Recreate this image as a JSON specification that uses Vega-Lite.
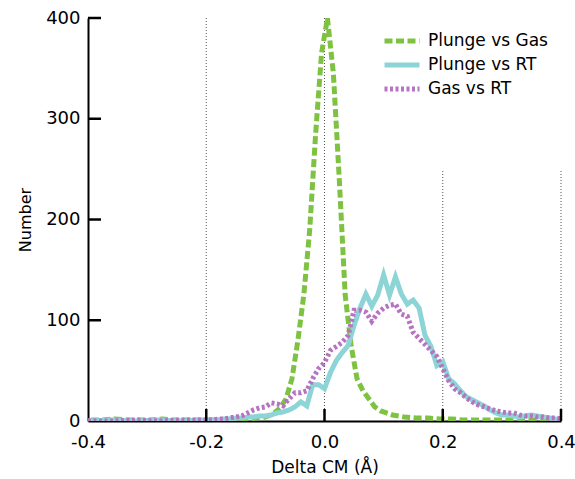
{
  "$schema": "https://vega.github.io/schema/vega-lite/v6.json",
  "width": 473,
  "height": 403,
  "autosize": {"type": "none"},
  "padding": {"left": 88, "top": 18, "right": 14, "bottom": 58},
  "background": "white",
  "config": {
    "view": {"stroke": null},
    "font": "DejaVu Sans",
    "axis": {
      "domainColor": "black", "domainWidth": 2,
      "ticks": false,
      "labelColor": "black", "titleColor": "black",
      "labelFont": "DejaVu Sans", "titleFont": "DejaVu Sans",
      "labelFontSize": 18, "titleFontSize": 16, "titleFontWeight": "normal",
      "grid": false
    }
  },
  "datasets": {
    "curves": [
      {"x": -0.395, "n": 1, "s": "Plunge vs Gas"},
      {"x": -0.375, "n": 1, "s": "Plunge vs Gas"},
      {"x": -0.355, "n": 2, "s": "Plunge vs Gas"},
      {"x": -0.335, "n": 1, "s": "Plunge vs Gas"},
      {"x": -0.315, "n": 1, "s": "Plunge vs Gas"},
      {"x": -0.295, "n": 1, "s": "Plunge vs Gas"},
      {"x": -0.275, "n": 2, "s": "Plunge vs Gas"},
      {"x": -0.255, "n": 1, "s": "Plunge vs Gas"},
      {"x": -0.235, "n": 1, "s": "Plunge vs Gas"},
      {"x": -0.215, "n": 1, "s": "Plunge vs Gas"},
      {"x": -0.195, "n": 1, "s": "Plunge vs Gas"},
      {"x": -0.175, "n": 1, "s": "Plunge vs Gas"},
      {"x": -0.155, "n": 1, "s": "Plunge vs Gas"},
      {"x": -0.135, "n": 2, "s": "Plunge vs Gas"},
      {"x": -0.125, "n": 2, "s": "Plunge vs Gas"},
      {"x": -0.115, "n": 3, "s": "Plunge vs Gas"},
      {"x": -0.105, "n": 3, "s": "Plunge vs Gas"},
      {"x": -0.095, "n": 5, "s": "Plunge vs Gas"},
      {"x": -0.085, "n": 8, "s": "Plunge vs Gas"},
      {"x": -0.075, "n": 13, "s": "Plunge vs Gas"},
      {"x": -0.065, "n": 22, "s": "Plunge vs Gas"},
      {"x": -0.055, "n": 42, "s": "Plunge vs Gas"},
      {"x": -0.045, "n": 80, "s": "Plunge vs Gas"},
      {"x": -0.035, "n": 125, "s": "Plunge vs Gas"},
      {"x": -0.025, "n": 190, "s": "Plunge vs Gas"},
      {"x": -0.015, "n": 285, "s": "Plunge vs Gas"},
      {"x": -0.005, "n": 365, "s": "Plunge vs Gas"},
      {"x": 0.005, "n": 400, "s": "Plunge vs Gas"},
      {"x": 0.015, "n": 345, "s": "Plunge vs Gas"},
      {"x": 0.025, "n": 240, "s": "Plunge vs Gas"},
      {"x": 0.035, "n": 125, "s": "Plunge vs Gas"},
      {"x": 0.045, "n": 75, "s": "Plunge vs Gas"},
      {"x": 0.055, "n": 42, "s": "Plunge vs Gas"},
      {"x": 0.065, "n": 30, "s": "Plunge vs Gas"},
      {"x": 0.075, "n": 22, "s": "Plunge vs Gas"},
      {"x": 0.085, "n": 14, "s": "Plunge vs Gas"},
      {"x": 0.095, "n": 10, "s": "Plunge vs Gas"},
      {"x": 0.105, "n": 8, "s": "Plunge vs Gas"},
      {"x": 0.115, "n": 6, "s": "Plunge vs Gas"},
      {"x": 0.125, "n": 5, "s": "Plunge vs Gas"},
      {"x": 0.135, "n": 4, "s": "Plunge vs Gas"},
      {"x": 0.155, "n": 3, "s": "Plunge vs Gas"},
      {"x": 0.175, "n": 3, "s": "Plunge vs Gas"},
      {"x": 0.195, "n": 2, "s": "Plunge vs Gas"},
      {"x": 0.215, "n": 2, "s": "Plunge vs Gas"},
      {"x": 0.235, "n": 1, "s": "Plunge vs Gas"},
      {"x": 0.255, "n": 1, "s": "Plunge vs Gas"},
      {"x": 0.275, "n": 1, "s": "Plunge vs Gas"},
      {"x": 0.295, "n": 1, "s": "Plunge vs Gas"},
      {"x": 0.315, "n": 1, "s": "Plunge vs Gas"},
      {"x": 0.335, "n": 1, "s": "Plunge vs Gas"},
      {"x": 0.355, "n": 1, "s": "Plunge vs Gas"},
      {"x": 0.375, "n": 1, "s": "Plunge vs Gas"},
      {"x": 0.395, "n": 1, "s": "Plunge vs Gas"},

      {"x": -0.40, "n": 0, "s": "Plunge vs RT"},
      {"x": -0.36, "n": 1, "s": "Plunge vs RT"},
      {"x": -0.32, "n": 0, "s": "Plunge vs RT"},
      {"x": -0.28, "n": 1, "s": "Plunge vs RT"},
      {"x": -0.24, "n": 0, "s": "Plunge vs RT"},
      {"x": -0.20, "n": 1, "s": "Plunge vs RT"},
      {"x": -0.19, "n": 1, "s": "Plunge vs RT"},
      {"x": -0.18, "n": 1, "s": "Plunge vs RT"},
      {"x": -0.17, "n": 2, "s": "Plunge vs RT"},
      {"x": -0.16, "n": 2, "s": "Plunge vs RT"},
      {"x": -0.15, "n": 3, "s": "Plunge vs RT"},
      {"x": -0.14, "n": 3, "s": "Plunge vs RT"},
      {"x": -0.13, "n": 4, "s": "Plunge vs RT"},
      {"x": -0.12, "n": 4, "s": "Plunge vs RT"},
      {"x": -0.11, "n": 5, "s": "Plunge vs RT"},
      {"x": -0.10, "n": 5, "s": "Plunge vs RT"},
      {"x": -0.09, "n": 6, "s": "Plunge vs RT"},
      {"x": -0.08, "n": 8, "s": "Plunge vs RT"},
      {"x": -0.07, "n": 9, "s": "Plunge vs RT"},
      {"x": -0.06, "n": 11, "s": "Plunge vs RT"},
      {"x": -0.05, "n": 14, "s": "Plunge vs RT"},
      {"x": -0.04, "n": 19, "s": "Plunge vs RT"},
      {"x": -0.03, "n": 15, "s": "Plunge vs RT"},
      {"x": -0.02, "n": 36, "s": "Plunge vs RT"},
      {"x": -0.01, "n": 36, "s": "Plunge vs RT"},
      {"x": 0.00, "n": 32, "s": "Plunge vs RT"},
      {"x": 0.01, "n": 48, "s": "Plunge vs RT"},
      {"x": 0.02, "n": 60, "s": "Plunge vs RT"},
      {"x": 0.03, "n": 68, "s": "Plunge vs RT"},
      {"x": 0.04, "n": 75, "s": "Plunge vs RT"},
      {"x": 0.05, "n": 95, "s": "Plunge vs RT"},
      {"x": 0.06, "n": 112, "s": "Plunge vs RT"},
      {"x": 0.07, "n": 126, "s": "Plunge vs RT"},
      {"x": 0.08, "n": 114, "s": "Plunge vs RT"},
      {"x": 0.09, "n": 125, "s": "Plunge vs RT"},
      {"x": 0.10, "n": 145, "s": "Plunge vs RT"},
      {"x": 0.11, "n": 125, "s": "Plunge vs RT"},
      {"x": 0.12, "n": 143, "s": "Plunge vs RT"},
      {"x": 0.13, "n": 126, "s": "Plunge vs RT"},
      {"x": 0.14, "n": 116, "s": "Plunge vs RT"},
      {"x": 0.15, "n": 120, "s": "Plunge vs RT"},
      {"x": 0.16, "n": 112, "s": "Plunge vs RT"},
      {"x": 0.17, "n": 85, "s": "Plunge vs RT"},
      {"x": 0.18, "n": 74, "s": "Plunge vs RT"},
      {"x": 0.19, "n": 55, "s": "Plunge vs RT"},
      {"x": 0.20, "n": 59, "s": "Plunge vs RT"},
      {"x": 0.21, "n": 42, "s": "Plunge vs RT"},
      {"x": 0.22, "n": 37, "s": "Plunge vs RT"},
      {"x": 0.23, "n": 30, "s": "Plunge vs RT"},
      {"x": 0.24, "n": 24, "s": "Plunge vs RT"},
      {"x": 0.25, "n": 21, "s": "Plunge vs RT"},
      {"x": 0.26, "n": 18, "s": "Plunge vs RT"},
      {"x": 0.27, "n": 15, "s": "Plunge vs RT"},
      {"x": 0.28, "n": 11, "s": "Plunge vs RT"},
      {"x": 0.29, "n": 8, "s": "Plunge vs RT"},
      {"x": 0.30, "n": 6, "s": "Plunge vs RT"},
      {"x": 0.31, "n": 6, "s": "Plunge vs RT"},
      {"x": 0.32, "n": 5, "s": "Plunge vs RT"},
      {"x": 0.33, "n": 4, "s": "Plunge vs RT"},
      {"x": 0.34, "n": 5, "s": "Plunge vs RT"},
      {"x": 0.35, "n": 6, "s": "Plunge vs RT"},
      {"x": 0.36, "n": 5, "s": "Plunge vs RT"},
      {"x": 0.37, "n": 4, "s": "Plunge vs RT"},
      {"x": 0.38, "n": 3, "s": "Plunge vs RT"},
      {"x": 0.39, "n": 2, "s": "Plunge vs RT"},
      {"x": 0.40, "n": 1, "s": "Plunge vs RT"},

      {"x": -0.40, "n": 0, "s": "Gas vs RT"},
      {"x": -0.36, "n": 0, "s": "Gas vs RT"},
      {"x": -0.32, "n": 1, "s": "Gas vs RT"},
      {"x": -0.28, "n": 0, "s": "Gas vs RT"},
      {"x": -0.24, "n": 1, "s": "Gas vs RT"},
      {"x": -0.20, "n": 1, "s": "Gas vs RT"},
      {"x": -0.19, "n": 1, "s": "Gas vs RT"},
      {"x": -0.18, "n": 2, "s": "Gas vs RT"},
      {"x": -0.17, "n": 2, "s": "Gas vs RT"},
      {"x": -0.16, "n": 3, "s": "Gas vs RT"},
      {"x": -0.15, "n": 4, "s": "Gas vs RT"},
      {"x": -0.14, "n": 5, "s": "Gas vs RT"},
      {"x": -0.13, "n": 8, "s": "Gas vs RT"},
      {"x": -0.12, "n": 11, "s": "Gas vs RT"},
      {"x": -0.11, "n": 13, "s": "Gas vs RT"},
      {"x": -0.10, "n": 14, "s": "Gas vs RT"},
      {"x": -0.09, "n": 18, "s": "Gas vs RT"},
      {"x": -0.08, "n": 17, "s": "Gas vs RT"},
      {"x": -0.07, "n": 15, "s": "Gas vs RT"},
      {"x": -0.06, "n": 22, "s": "Gas vs RT"},
      {"x": -0.05, "n": 28, "s": "Gas vs RT"},
      {"x": -0.04, "n": 28, "s": "Gas vs RT"},
      {"x": -0.03, "n": 30, "s": "Gas vs RT"},
      {"x": -0.02, "n": 42, "s": "Gas vs RT"},
      {"x": -0.01, "n": 52, "s": "Gas vs RT"},
      {"x": 0.00, "n": 58, "s": "Gas vs RT"},
      {"x": 0.01, "n": 70, "s": "Gas vs RT"},
      {"x": 0.02, "n": 74, "s": "Gas vs RT"},
      {"x": 0.03, "n": 78, "s": "Gas vs RT"},
      {"x": 0.04, "n": 85, "s": "Gas vs RT"},
      {"x": 0.05, "n": 110, "s": "Gas vs RT"},
      {"x": 0.06, "n": 110, "s": "Gas vs RT"},
      {"x": 0.07, "n": 108, "s": "Gas vs RT"},
      {"x": 0.08, "n": 99, "s": "Gas vs RT"},
      {"x": 0.09, "n": 107, "s": "Gas vs RT"},
      {"x": 0.10, "n": 112, "s": "Gas vs RT"},
      {"x": 0.11, "n": 115, "s": "Gas vs RT"},
      {"x": 0.12, "n": 116, "s": "Gas vs RT"},
      {"x": 0.13, "n": 106, "s": "Gas vs RT"},
      {"x": 0.14, "n": 104, "s": "Gas vs RT"},
      {"x": 0.15, "n": 88, "s": "Gas vs RT"},
      {"x": 0.16, "n": 82, "s": "Gas vs RT"},
      {"x": 0.17, "n": 76, "s": "Gas vs RT"},
      {"x": 0.18, "n": 70, "s": "Gas vs RT"},
      {"x": 0.19, "n": 64, "s": "Gas vs RT"},
      {"x": 0.20, "n": 52, "s": "Gas vs RT"},
      {"x": 0.21, "n": 40, "s": "Gas vs RT"},
      {"x": 0.22, "n": 32, "s": "Gas vs RT"},
      {"x": 0.23, "n": 28, "s": "Gas vs RT"},
      {"x": 0.24, "n": 23, "s": "Gas vs RT"},
      {"x": 0.25, "n": 19, "s": "Gas vs RT"},
      {"x": 0.26, "n": 16, "s": "Gas vs RT"},
      {"x": 0.27, "n": 14, "s": "Gas vs RT"},
      {"x": 0.28, "n": 12, "s": "Gas vs RT"},
      {"x": 0.29, "n": 10, "s": "Gas vs RT"},
      {"x": 0.30, "n": 9, "s": "Gas vs RT"},
      {"x": 0.31, "n": 8, "s": "Gas vs RT"},
      {"x": 0.32, "n": 8, "s": "Gas vs RT"},
      {"x": 0.33, "n": 6, "s": "Gas vs RT"},
      {"x": 0.34, "n": 5, "s": "Gas vs RT"},
      {"x": 0.35, "n": 5, "s": "Gas vs RT"},
      {"x": 0.36, "n": 4, "s": "Gas vs RT"},
      {"x": 0.37, "n": 4, "s": "Gas vs RT"},
      {"x": 0.38, "n": 3, "s": "Gas vs RT"},
      {"x": 0.39, "n": 3, "s": "Gas vs RT"},
      {"x": 0.40, "n": 2, "s": "Gas vs RT"}
    ],
    "grid": [
      {"gx": -0.2, "bot": 0, "top": 400},
      {"gx": 0.0, "bot": 0, "top": 400},
      {"gx": 0.2, "bot": 0, "top": 250},
      {"gx": 0.4, "bot": 0, "top": 250}
    ],
    "ytickrows": [
      {"yv": 100, "xa": -0.4, "xb": -0.378}, {"yv": 200, "xa": -0.4, "xb": -0.378},
      {"yv": 300, "xa": -0.4, "xb": -0.378}, {"yv": 400, "xa": -0.4, "xb": -0.378}
    ],
    "xticks": [
      {"tv": -0.2, "at": 0}, {"tv": 0.0, "at": 0},
      {"tv": 0.2, "at": 0}, {"tv": 0.4, "at": 0}
    ]
  },
  "layer": [
    {
      "data": {"name": "grid"},
      "mark": {"type": "rule", "color": "#555555", "strokeWidth": 1, "strokeDash": [1, 2]},
      "encoding": {
        "x": {"field": "gx", "type": "quantitative"},
        "y": {"field": "bot", "type": "quantitative"},
        "y2": {"field": "top"}
      }
    },
    {
      "data": {"name": "curves"},
      "mark": {"type": "line", "strokeWidth": 5, "clip": true},
      "encoding": {
        "x": {
          "field": "x", "type": "quantitative",
          "scale": {"domain": [-0.4, 0.4], "nice": false, "zero": false},
          "axis": {
            "title": "Delta CM (Å)", "titleFontSize": 17, "values": [-0.4, -0.2, 0, 0.2, 0.4],
            "labelExpr": "replace(format(datum.value, '.1f'), '\u2212', '-')",
            "labelPadding": 12, "titlePadding": 8, "labelFlush": false
          }
        },
        "y": {
          "field": "n", "type": "quantitative",
          "scale": {"domain": [0, 400], "nice": false},
          "axis": {
            "title": "Number", "values": [0, 100, 200, 300, 400],
            "labelPadding": 8, "titlePadding": 12
          }
        },
        "color": {
          "field": "s", "type": "nominal",
          "scale": {
            "domain": ["Plunge vs Gas", "Plunge vs RT", "Gas vs RT"],
            "range": ["#7ec242", "#8dd4d6", "#b673c2"]
          },
          "legend": {
            "title": null, "orient": "none", "legendX": 294, "legendY": 13,
            "labelFontSize": 17, "labelFont": "DejaVu Sans", "labelColor": "black",
            "symbolType": "stroke", "symbolSize": 1225, "symbolStrokeWidth": 5,
            "clipHeight": 20, "rowPadding": 4, "labelOffset": 6
          }
        },
        "strokeDash": {
          "field": "s", "type": "nominal",
          "scale": {
            "domain": ["Plunge vs Gas", "Plunge vs RT", "Gas vs RT"],
            "range": [[8, 3.5], [1, 0], [3, 2.5]]
          }
        }
      }
    },
    {
      "data": {"name": "ytickrows"},
      "mark": {"type": "rule", "color": "black", "strokeWidth": 2.5},
      "encoding": {
        "y": {"field": "yv", "type": "quantitative"},
        "x": {"field": "xa", "type": "quantitative"},
        "x2": {"field": "xb"}
      }
    },
    {
      "data": {"name": "xticks"},
      "mark": {"type": "tick", "orient": "vertical", "color": "black", "opacity": 1, "size": 12, "thickness": 2.5, "yOffset": -6},
      "encoding": {
        "x": {"field": "tv", "type": "quantitative"},
        "y": {"field": "at", "type": "quantitative"}
      }
    }
  ]
}
